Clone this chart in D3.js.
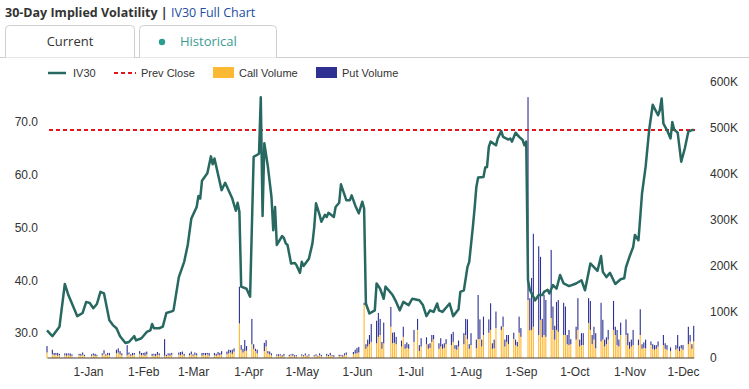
<!DOCTYPE html>
<html>
<head>
<meta charset="utf-8">
<script src="https://cdn.jsdelivr.net/npm/d3@7"></script>
<style>
  body { margin: 0; background: #fff; }
  svg { display: block; font-family: "Liberation Sans", Arial, sans-serif; }
</style>
</head>
<body>
<div id="vis"></div>
<script>
// IV30 readings (date, %)
var ivPoints = [
  ["2022-12-09",30.5],["2022-12-12",29.4],["2022-12-16",31.2],["2022-12-19",39.3],["2022-12-21",37.2],
  ["2022-12-26",33.2],["2022-12-29",33.8],["2022-12-31",35.9],["2023-01-02",35.7],["2023-01-04",34.7],
  ["2023-01-06",35.5],["2023-01-08",37.8],["2023-01-10",37.5],["2023-01-13",32.4],["2023-01-15",31.5],
  ["2023-01-17",30.9],["2023-01-19",29.4],["2023-01-22",28.1],["2023-01-24",28.3],["2023-01-27",29.4],
  ["2023-01-28",28.6],["2023-01-31",29.0],["2023-02-03",30.2],["2023-02-05",30.5],["2023-02-06",31.7],
  ["2023-02-07",30.9],["2023-02-10",30.9],["2023-02-12",31.2],["2023-02-14",33.8],["2023-02-17",34.1],
  ["2023-02-18",34.3],["2023-02-21",40.6],["2023-02-24",43.5],["2023-02-26",46.7],["2023-02-28",51.7],
  ["2023-03-03",53.9],["2023-03-04",56.0],["2023-03-05",55.5],["2023-03-06",58.9],["2023-03-09",60.3],
  ["2023-03-11",63.5],["2023-03-12",62.0],["2023-03-13",63.1],["2023-03-17",57.1],["2023-03-19",58.5],
  ["2023-03-23",55.5],["2023-03-25",53.2],["2023-03-26",54.7],["2023-03-27",53.0],["2023-03-28",38.8],
  ["2023-03-31",38.4],["2023-04-02",36.9],["2023-04-04",63.4],["2023-04-07",64.0],["2023-04-08",74.7],
  ["2023-04-09",52.2],["2023-04-10",66.0],["2023-04-12",61.5],["2023-04-14",55.8],["2023-04-15",49.5],
  ["2023-04-16",53.9],["2023-04-17",46.7],["2023-04-20",48.4],["2023-04-21",48.0],["2023-04-22",47.0],
  ["2023-04-23",46.7],["2023-04-25",43.2],["2023-04-27",43.3],["2023-04-28",42.9],["2023-04-30",41.4],
  ["2023-05-01",43.5],["2023-05-02",42.7],["2023-05-05",44.1],["2023-05-07",47.0],["2023-05-08",50.1],
  ["2023-05-09",54.6],["2023-05-11",52.4],["2023-05-12",51.1],["2023-05-14",52.4],["2023-05-15",52.0],
  ["2023-05-16",52.8],["2023-05-19",52.0],["2023-05-20",53.9],["2023-05-22",54.7],["2023-05-23",58.2],
  ["2023-05-26",55.2],["2023-05-28",55.2],["2023-05-29",56.1],["2023-05-31",54.2],["2023-06-02",52.7],
  ["2023-06-04",54.9],["2023-06-05",53.6],["2023-06-06",35.6],["2023-06-08",33.7],["2023-06-11",34.3],
  ["2023-06-12",39.4],["2023-06-14",38.4],["2023-06-16",36.5],["2023-06-17",38.8],["2023-06-21",37.2],
  ["2023-06-23",35.9],["2023-06-25",34.3],["2023-06-27",35.9],["2023-06-30",35.3],["2023-07-02",36.5],
  ["2023-07-06",36.2],["2023-07-08",35.3],["2023-07-10",33.2],["2023-07-12",34.3],["2023-07-14",34.0],
  ["2023-07-16",35.6],["2023-07-17",34.3],["2023-07-19",34.0],["2023-07-23",35.6],["2023-07-25",33.2],
  ["2023-07-28",34.5],["2023-07-29",37.8],["2023-07-31",38.1],["2023-08-02",42.5],["2023-08-03",43.5],
  ["2023-08-05",50.0],["2023-08-06",53.6],["2023-08-07",57.7],["2023-08-08",59.5],["2023-08-11",59.6],
  ["2023-08-12",61.4],["2023-08-13",61.5],["2023-08-14",65.3],["2023-08-15",66.3],["2023-08-18",65.6],
  ["2023-08-19",66.9],["2023-08-21",68.3],["2023-08-22",67.2],["2023-08-25",66.7],["2023-08-26",66.9],
  ["2023-08-27",66.3],["2023-08-29",68.0],["2023-08-31",67.2],["2023-09-02",66.6],["2023-09-03",65.6],
  ["2023-09-04",66.3],["2023-09-05",40.0],["2023-09-06",38.2],["2023-09-09",36.2],["2023-09-11",37.2],
  ["2023-09-13",37.2],["2023-09-14",37.8],["2023-09-16",38.2],["2023-09-17",37.5],["2023-09-19",39.1],
  ["2023-09-21",38.4],["2023-09-23",41.0],["2023-09-25",39.4],["2023-09-28",38.9],["2023-10-02",39.4],
  ["2023-10-05",40.0],["2023-10-07",38.1],["2023-10-10",43.2],["2023-10-12",42.5],["2023-10-14",41.8],
  ["2023-10-16",44.6],["2023-10-17",41.6],["2023-10-19",40.6],["2023-10-21",41.4],["2023-10-24",39.3],
  ["2023-10-27",40.2],["2023-10-29",40.4],["2023-10-30",42.5],["2023-11-01",44.5],["2023-11-03",46.3],
  ["2023-11-04",48.6],["2023-11-06",47.6],["2023-11-07",52.0],["2023-11-08",56.5],["2023-11-09",59.0],
  ["2023-11-10",61.5],["2023-11-12",68.5],["2023-11-14",73.3],["2023-11-15",72.6],["2023-11-17",71.3],
  ["2023-11-18",72.3],["2023-11-19",74.5],["2023-11-20",69.7],["2023-11-22",68.5],["2023-11-24",66.9],
  ["2023-11-25",70.0],["2023-11-26",68.6],["2023-11-28",68.0],["2023-11-30",62.5],["2023-12-02",65.0],
  ["2023-12-04",68.2],["2023-12-06",68.5],["2023-12-07",68.5]
];

var prevClose = 68.5;

// first and last trading day of the volume series
var volStart = "2022-12-09";
var volEnd = "2023-12-07";

// call volume in thousands, one value per weekday from volStart (0 = market holiday)
var callK = [
  12,
  8,6,7,5,6,   6,5,7,4,5,   0,6,5,7,4,   0,5,6,4,5,   6,9,5,7,6,
  0,10,12,8,6, 6,8,5,6,7,   9,6,7,5,8,   5,6,4,7,6,   5,4,6,5,7,
  0,7,6,8,5,   6,8,5,7,6,   5,7,6,8,5,   6,5,7,6,8,   8,10,12,9,14,
  75,18,12,15,16, 30,20,15,10,0, 15,25,10,8,6, 5,4,6,3,5, 4,6,5,3,4,
  5,4,6,3,5,   4,5,3,6,4,   5,4,6,4,3,   4,5,3,6,7,   0,8,10,10,12,
  115,20,25,30,35, 32,46,50,20,32, 0,68,32,33,30, 25,46,20,22,20, 35,0,61,15,25,
  30,20,22,35,41, 20,25,20,22,30, 28,35,20,18,25, 30,50,41,20,28, 21,41,41,25,50,
  55,61,20,21,65, 61,68,25,35,30, 41,28,25,55,46, 0,126,60,61,68, 50,83,45,50,46,
  87,61,40,61,57, 50,50,30,28,30, 40,61,25,28,28, 76,61,30,40,21, 36,40,25,30,40,
  61,50,28,25,50, 50,28,20,25,28, 28,50,20,22,21, 28,20,18,20,25, 28,20,18,0,15,
  18,21,15,21,18,
  30,36,20,36
];

// put volume in thousands, same days as callK
var putK = [
  14,
  10,5,4,6,3,  4,5,3,6,3,   0,3,4,5,3,   0,3,4,5,2,   4,8,3,4,5,
  0,8,9,7,4,   22,4,3,5,4,  6,5,4,7,6,   4,3,5,6,4,   36,3,4,5,4,
  0,5,7,6,4,   4,6,3,5,4,   6,4,5,3,6,   5,4,6,5,7,   6,8,5,9,7,
  80,10,8,24,10, 55,10,5,8,0, 18,14,5,6,4, 3,4,2,3,4, 3,2,4,3,2,
  3,2,4,2,3,   2,3,2,4,3,   4,3,5,2,3,   3,2,3,4,5,   0,5,8,12,12,
  5,10,15,20,39, 49,52,35,15,45, 0,43,23,23,16, 13,22,10,12,10, 26,0,24,13,18,
  15,10,10,15,9, 12,18,10,10,11, 24,22,8,10,13, 24,35,43,10,26, 19,96,43,15,40,
  29,58,12,19,36, 8,22,15,15,20, 14,12,10,35,19, 0,441,70,113,202, 193,137,40,87,80,
  148,51,30,61,69, 70,62,20,33,11, 28,69,15,26,26, 54,63,20,28,33, 84,43,15,15,21,
  63,18,33,15,27, 34,26,15,15,33, 12,56,10,12,19, 8,10,10,8,11, 22,12,10,0,8,
  10,29,10,7,10,
  38,14,10,34
];

var ivTicks = [30, 40, 50, 60, 70];
var volTicks = [0, 100000, 200000, 300000, 400000, 500000, 600000];

var width = 749, height = 389;
var parse = d3.utcParse("%Y-%m-%d");

var svg = d3.select("#vis").append("svg")
    .attr("width", width)
    .attr("height", height);

svg.append("rect").attr("width", width).attr("height", height).attr("fill", "#fff");

/* header */
var title = svg.append("text")
    .attr("x", 5).attr("y", 17)
    .style("font-family", "'Open Sans', sans-serif")
    .style("font-size", "12.5px");
title.append("tspan").attr("font-weight", "bold").attr("fill", "#333").text("30-Day Implied Volatility");
title.append("tspan").attr("fill", "#333").attr("font-weight", "bold").text(" | ");
title.append("tspan").attr("fill", "#1c4da1").text("IV30 Full Chart");

// tabs
function tabPath(x0, x1, y0, y1, r) {
    return "M" + x0 + "," + y1 + "V" + (y0 + r) + "Q" + x0 + "," + y0 + " " + (x0 + r) + "," + y0 +
        "H" + (x1 - r) + "Q" + x1 + "," + y0 + " " + x1 + "," + (y0 + r) + "V" + y1;
}
svg.append("line").attr("x1", 0).attr("x2", width).attr("y1", 57.5).attr("y2", 57.5)
    .attr("stroke", "#cfcfcf");
svg.append("path").attr("d", tabPath(5.5, 134.5, 25.5, 57.5, 4))
    .attr("fill", "#fff").attr("stroke", "#cfcfcf");
svg.append("path").attr("d", tabPath(139.5, 276.5, 25.5, 57.5, 4))
    .attr("fill", "#fff").attr("stroke", "#cfcfcf");
svg.append("text").attr("x", 70).attr("y", 46).attr("text-anchor", "middle")
    .style("font-family", "'Open Sans', sans-serif").style("font-size", "13px")
    .attr("fill", "#333").text("Current");
svg.append("circle").attr("cx", 162).attr("cy", 42).attr("r", 3.2).attr("fill", "#2a9d8f");
svg.append("text").attr("x", 180).attr("y", 46)
    .style("font-family", "'Open Sans', sans-serif").style("font-size", "13px")
    .attr("fill", "#3a9c90").text("Historical");

/* legend */
var lg = svg.append("g").attr("font-size", "11px").attr("fill", "#333");
lg.append("line").attr("x1", 48).attr("x2", 66).attr("y1", 73).attr("y2", 73)
    .attr("stroke", "#276860").attr("stroke-width", 2.5);
lg.append("text").attr("x", 73).attr("y", 77).text("IV30");
lg.append("line").attr("x1", 114).attr("x2", 136).attr("y1", 73).attr("y2", 73)
    .attr("stroke", "#e3141b").attr("stroke-width", 2).attr("stroke-dasharray", "4,3");
lg.append("text").attr("x", 141).attr("y", 77).text("Prev Close");
lg.append("rect").attr("x", 213).attr("y", 67).attr("width", 21).attr("height", 11).attr("fill", "#fdb933");
lg.append("text").attr("x", 239).attr("y", 77).text("Call Volume");
lg.append("rect").attr("x", 316).attr("y", 67).attr("width", 21).attr("height", 11).attr("fill", "#2e3192");
lg.append("text").attr("x", 342).attr("y", 77).text("Put Volume");

/* scales */
var xScale = d3.scaleUtc()
    .domain([parse("2022-12-09"), parse("2023-12-07")])
    .range([47, 693.7]);

var yIV = d3.scaleLinear().domain([25.45, 77.8]).range([357, 81]);
var yVol = d3.scaleLinear().domain([0, 600000]).range([358, 82]);

/* volume bars */
var days = d3.utcDay.range(parse(volStart), d3.utcDay.offset(parse(volEnd), 1))
    .filter(function(d) { return d.getUTCDay() !== 0 && d.getUTCDay() !== 6; });
var vol = days.map(function(d, i) {
    return { date: d, call: callK[i] * 1000, put: putK[i] * 1000 };
}).filter(function(d) { return d.call + d.put > 0; });

var barW = 1.1;
var bars = svg.append("g");
bars.selectAll("rect.call").data(vol).enter().append("rect")
    .attr("class", "call")
    .attr("x", function(d) { return xScale(d.date) - barW / 2; })
    .attr("width", barW)
    .attr("y", function(d) { return yVol(d.call); })
    .attr("height", function(d) { return yVol(0) - yVol(d.call); })
    .attr("fill", "#fdb933");
bars.selectAll("rect.put").data(vol).enter().append("rect")
    .attr("class", "put")
    .attr("x", function(d) { return xScale(d.date) - barW / 2; })
    .attr("width", barW)
    .attr("y", function(d) { return yVol(d.call + d.put); })
    .attr("height", function(d) { return yVol(d.call) - yVol(d.call + d.put); })
    .attr("fill", "#2e3192");

/* axes */
var xAxis = d3.axisBottom(xScale)
    .ticks(d3.utcMonth.every(1))
    .tickFormat(d3.utcFormat("%-d-%b"))
    .tickSize(0).tickPadding(10);
var gX = svg.append("g").attr("transform", "translate(0,357.5)").call(xAxis);
gX.select(".domain").attr("stroke", "#4a4036").attr("stroke-width", 1.2);
gX.selectAll(".tick text").attr("font-size", "12px").attr("fill", "#333")
    .style("font-family", "'Liberation Sans', Arial, sans-serif");

var gL = svg.append("g").attr("transform", "translate(40,0)")
    .call(d3.axisLeft(yIV).tickValues(ivTicks).tickFormat(d3.format(".1f")).tickSize(0).tickPadding(2));
gL.select(".domain").remove();
gL.selectAll(".tick text").attr("font-size", "12px").attr("fill", "#333")
    .style("font-family", "'Liberation Sans', Arial, sans-serif");

var gR = svg.append("g").attr("transform", "translate(708,0)")
    .call(d3.axisRight(yVol).tickValues(volTicks)
        .tickFormat(function(d) { return d === 0 ? "0" : (d / 1000) + "K"; })
        .tickSize(0).tickPadding(2));
gR.select(".domain").remove();
gR.selectAll(".tick text").attr("font-size", "12px").attr("fill", "#333")
    .style("font-family", "'Liberation Sans', Arial, sans-serif");

/* prev close + IV line */
svg.append("line")
    .attr("x1", 49).attr("x2", 695)
    .attr("y1", yIV(prevClose)).attr("y2", yIV(prevClose))
    .attr("stroke", "#e3141b").attr("stroke-width", 2).attr("stroke-dasharray", "4,3");

var line = d3.line()
    .x(function(d) { return xScale(parse(d[0])); })
    .y(function(d) { return yIV(d[1]); });
svg.append("path").datum(ivPoints)
    .attr("d", line)
    .attr("fill", "none")
    .attr("stroke", "#276860")
    .attr("stroke-width", 2.5)
    .attr("stroke-linejoin", "round");
</script>
</body>
</html>
